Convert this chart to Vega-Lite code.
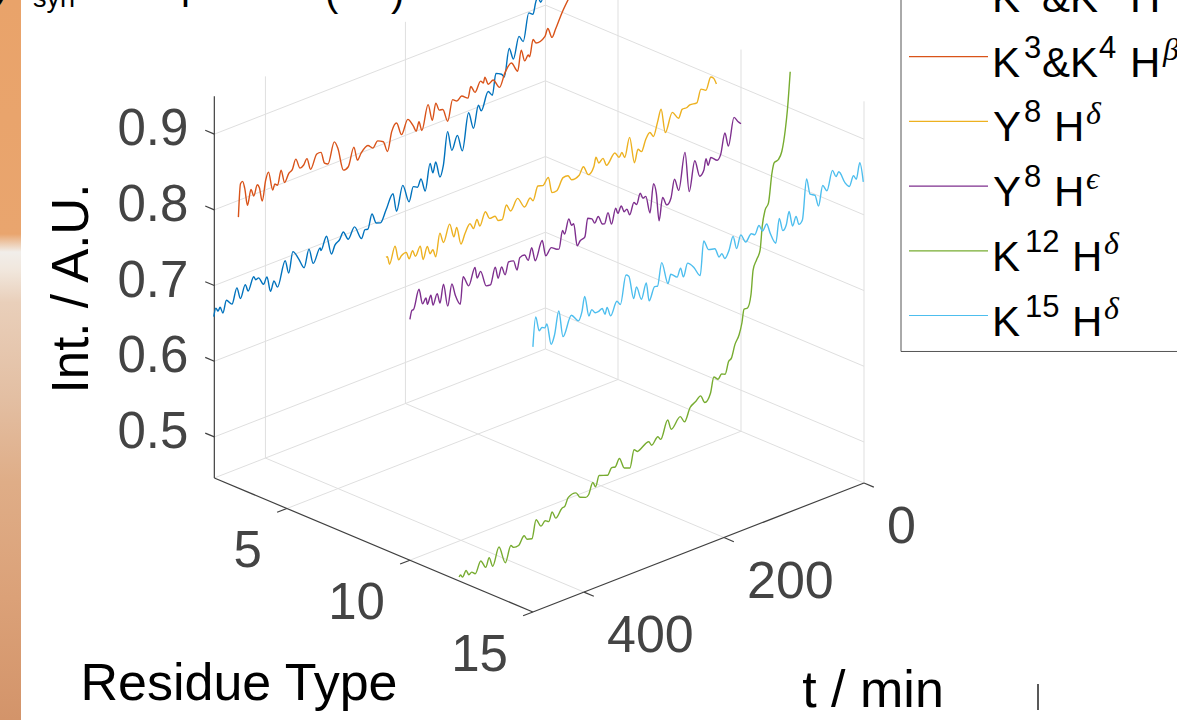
{"$schema":"https://vega.github.io/schema/vega-lite/v6.json","width":1177,"height":720,"padding":0,"autosize":"none","background":"white","config":{"view":{"stroke":null},"text":{"font":"Liberation Sans","baseline":"alphabetic"}},
"datasets":{
"lines":[
{"residue":2,"t":472,"int":0.658},{"residue":2,"t":469,"int":0.668},{"residue":2,"t":466,"int":0.663},{"residue":2,"t":463,"int":0.667},{"residue":2,"t":459,"int":0.658},{"residue":2,"t":454,"int":0.673},{"residue":2,"t":446,"int":0.665},{"residue":2,"t":439,"int":0.684},{"residue":2,"t":434,"int":0.668},{"residue":2,"t":427,"int":0.684},{"residue":2,"t":423,"int":0.674},{"residue":2,"t":415,"int":0.69},{"residue":2,"t":412,"int":0.685},{"residue":2,"t":408,"int":0.686},{"residue":2,"t":401,"int":0.675},{"residue":2,"t":396,"int":0.683},{"residue":2,"t":391,"int":0.662},{"residue":2,"t":386,"int":0.674},{"residue":2,"t":381,"int":0.664},{"residue":2,"t":370,"int":0.695},{"residue":2,"t":365,"int":0.677},{"residue":2,"t":359,"int":0.703},{"residue":2,"t":351,"int":0.691},{"residue":2,"t":343,"int":0.676},{"residue":2,"t":336,"int":0.698},{"residue":2,"t":330,"int":0.677},{"residue":2,"t":320,"int":0.694},{"residue":2,"t":319,"int":0.69},{"residue":2,"t":311,"int":0.706},{"residue":2,"t":304,"int":0.68},{"residue":2,"t":299,"int":0.69},{"residue":2,"t":292,"int":0.695},{"residue":2,"t":287,"int":0.703},{"residue":2,"t":280,"int":0.691},{"residue":2,"t":271,"int":0.704},{"residue":2,"t":261,"int":0.685},{"residue":2,"t":256,"int":0.695},{"residue":2,"t":252,"int":0.694},{"residue":2,"t":246,"int":0.712},{"residue":2,"t":240,"int":0.698},{"residue":2,"t":234,"int":0.696},{"residue":2,"t":226,"int":0.71},{"residue":2,"t":216,"int":0.728},{"residue":2,"t":211,"int":0.703},{"residue":2,"t":202,"int":0.734},{"residue":2,"t":193,"int":0.709},{"residue":2,"t":187,"int":0.727},{"residue":2,"t":181,"int":0.724},{"residue":2,"t":176,"int":0.733},{"residue":2,"t":170,"int":0.715},{"residue":2,"t":163,"int":0.749},{"residue":2,"t":159,"int":0.735},{"residue":2,"t":155,"int":0.748},{"residue":2,"t":149,"int":0.726},{"residue":2,"t":144,"int":0.74},{"residue":2,"t":138,"int":0.782},{"residue":2,"t":132,"int":0.755},{"residue":2,"t":124,"int":0.772},{"residue":2,"t":117,"int":0.749},{"residue":2,"t":108,"int":0.796},{"residue":2,"t":101,"int":0.773},{"residue":2,"t":94,"int":0.801},{"residue":2,"t":90,"int":0.792},{"residue":2,"t":80,"int":0.814},{"residue":2,"t":74,"int":0.807},{"residue":2,"t":69,"int":0.834},{"residue":2,"t":61,"int":0.83},{"residue":2,"t":57,"int":0.825},{"residue":2,"t":50,"int":0.86},{"residue":2,"t":44,"int":0.844},{"residue":2,"t":36,"int":0.871},{"residue":2,"t":30,"int":0.862},{"residue":2,"t":22,"int":0.897},{"residue":2,"t":16,"int":0.893},{"residue":2,"t":12,"int":0.908},{"residue":2,"t":9,"int":0.913},{"residue":2,"t":5,"int":0.905},{"residue":2,"t":0,"int":0.917},
{"residue":3,"t":472,"int":0.803},{"residue":3,"t":469,"int":0.846},{"residue":3,"t":466,"int":0.848},{"residue":3,"t":463,"int":0.838},{"residue":3,"t":459,"int":0.814},{"residue":3,"t":454,"int":0.833},{"residue":3,"t":450,"int":0.823},{"residue":3,"t":445,"int":0.836},{"residue":3,"t":442,"int":0.831},{"residue":3,"t":438,"int":0.812},{"residue":3,"t":433,"int":0.838},{"residue":3,"t":429,"int":0.847},{"residue":3,"t":423,"int":0.821},{"residue":3,"t":420,"int":0.828},{"residue":3,"t":416,"int":0.825},{"residue":3,"t":411,"int":0.843},{"residue":3,"t":406,"int":0.825},{"residue":3,"t":400,"int":0.835},{"residue":3,"t":395,"int":0.838},{"residue":3,"t":390,"int":0.85},{"residue":3,"t":384,"int":0.836},{"residue":3,"t":379,"int":0.838},{"residue":3,"t":374,"int":0.845},{"residue":3,"t":369,"int":0.829},{"residue":3,"t":360,"int":0.846},{"residue":3,"t":354,"int":0.846},{"residue":3,"t":349,"int":0.83},{"residue":3,"t":344,"int":0.827},{"residue":3,"t":335,"int":0.853},{"residue":3,"t":330,"int":0.843},{"residue":3,"t":322,"int":0.811},{"residue":3,"t":315,"int":0.813},{"residue":3,"t":307,"int":0.836},{"residue":3,"t":302,"int":0.817},{"residue":3,"t":297,"int":0.824},{"residue":3,"t":287,"int":0.831},{"residue":3,"t":280,"int":0.825},{"residue":3,"t":273,"int":0.832},{"residue":3,"t":265,"int":0.828},{"residue":3,"t":259,"int":0.813},{"residue":3,"t":253,"int":0.837},{"residue":3,"t":246,"int":0.846},{"residue":3,"t":239,"int":0.828},{"residue":3,"t":230,"int":0.845},{"residue":3,"t":222,"int":0.833},{"residue":3,"t":218,"int":0.825},{"residue":3,"t":214,"int":0.836},{"residue":3,"t":210,"int":0.823},{"residue":3,"t":201,"int":0.854},{"residue":3,"t":195,"int":0.831},{"residue":3,"t":190,"int":0.852},{"residue":3,"t":185,"int":0.841},{"residue":3,"t":180,"int":0.84},{"residue":3,"t":173,"int":0.822},{"residue":3,"t":166,"int":0.848},{"residue":3,"t":160,"int":0.844},{"residue":3,"t":153,"int":0.848},{"residue":3,"t":144,"int":0.842},{"residue":3,"t":140,"int":0.856},{"residue":3,"t":134,"int":0.846},{"residue":3,"t":126,"int":0.858},{"residue":3,"t":122,"int":0.854},{"residue":3,"t":120,"int":0.861},{"residue":3,"t":115,"int":0.85},{"residue":3,"t":108,"int":0.853},{"residue":3,"t":99,"int":0.84},{"residue":3,"t":91,"int":0.857},{"residue":3,"t":82,"int":0.866},{"residue":3,"t":73,"int":0.852},{"residue":3,"t":68,"int":0.878},{"residue":3,"t":63,"int":0.862},{"residue":3,"t":58,"int":0.868},{"residue":3,"t":56,"int":0.865},{"residue":3,"t":51,"int":0.886},{"residue":3,"t":47,"int":0.88},{"residue":3,"t":34,"int":0.884},{"residue":3,"t":30,"int":0.893},{"residue":3,"t":24,"int":0.879},{"residue":3,"t":19,"int":0.888},{"residue":3,"t":10,"int":0.906},{"residue":3,"t":0,"int":0.922},
{"residue":9,"t":472,"int":0.832},{"residue":9,"t":470,"int":0.832},{"residue":9,"t":467,"int":0.821},{"residue":9,"t":459,"int":0.842},{"residue":9,"t":454,"int":0.822},{"residue":9,"t":450,"int":0.826},{"residue":9,"t":443,"int":0.828},{"residue":9,"t":439,"int":0.818},{"residue":9,"t":434,"int":0.827},{"residue":9,"t":430,"int":0.818},{"residue":9,"t":423,"int":0.829},{"residue":9,"t":419,"int":0.81},{"residue":9,"t":413,"int":0.825},{"residue":9,"t":409,"int":0.814},{"residue":9,"t":405,"int":0.818},{"residue":9,"t":401,"int":0.807},{"residue":9,"t":395,"int":0.836},{"residue":9,"t":390,"int":0.822},{"residue":9,"t":381,"int":0.843},{"residue":9,"t":375,"int":0.824},{"residue":9,"t":371,"int":0.835},{"residue":9,"t":365,"int":0.811},{"residue":9,"t":359,"int":0.823},{"residue":9,"t":352,"int":0.833},{"residue":9,"t":347,"int":0.825},{"residue":9,"t":342,"int":0.835},{"residue":9,"t":338,"int":0.825},{"residue":9,"t":330,"int":0.841},{"residue":9,"t":324,"int":0.83},{"residue":9,"t":316,"int":0.83},{"residue":9,"t":312,"int":0.823},{"residue":9,"t":306,"int":0.822},{"residue":9,"t":300,"int":0.839},{"residue":9,"t":294,"int":0.829},{"residue":9,"t":284,"int":0.842},{"residue":9,"t":274,"int":0.827},{"residue":9,"t":266,"int":0.836},{"residue":9,"t":262,"int":0.831},{"residue":9,"t":255,"int":0.848},{"residue":9,"t":248,"int":0.846},{"residue":9,"t":240,"int":0.854},{"residue":9,"t":235,"int":0.832},{"residue":9,"t":228,"int":0.832},{"residue":9,"t":219,"int":0.846},{"residue":9,"t":212,"int":0.846},{"residue":9,"t":207,"int":0.839},{"residue":9,"t":196,"int":0.841},{"residue":9,"t":190,"int":0.85},{"residue":9,"t":183,"int":0.837},{"residue":9,"t":175,"int":0.845},{"residue":9,"t":172,"int":0.856},{"residue":9,"t":168,"int":0.847},{"residue":9,"t":162,"int":0.851},{"residue":9,"t":157,"int":0.84},{"residue":9,"t":145,"int":0.852},{"residue":9,"t":139,"int":0.844},{"residue":9,"t":135,"int":0.849},{"residue":9,"t":131,"int":0.841},{"residue":9,"t":124,"int":0.865},{"residue":9,"t":117,"int":0.829},{"residue":9,"t":112,"int":0.845},{"residue":9,"t":107,"int":0.84},{"residue":9,"t":101,"int":0.854},{"residue":9,"t":95,"int":0.861},{"residue":9,"t":90,"int":0.854},{"residue":9,"t":84,"int":0.871},{"residue":9,"t":79,"int":0.886},{"residue":9,"t":73,"int":0.853},{"residue":9,"t":63,"int":0.876},{"residue":9,"t":54,"int":0.865},{"residue":9,"t":49,"int":0.875},{"residue":9,"t":42,"int":0.875},{"residue":9,"t":38,"int":0.877},{"residue":9,"t":28,"int":0.876},{"residue":9,"t":22,"int":0.892},{"residue":9,"t":15,"int":0.888},{"residue":9,"t":8,"int":0.903},{"residue":9,"t":4,"int":0.9},{"residue":9,"t":0,"int":0.891},
{"residue":10,"t":473,"int":0.764},{"residue":10,"t":470,"int":0.775},{"residue":10,"t":468,"int":0.775},{"residue":10,"t":460,"int":0.799},{"residue":10,"t":455,"int":0.778},{"residue":10,"t":450,"int":0.784},{"residue":10,"t":448,"int":0.775},{"residue":10,"t":443,"int":0.785},{"residue":10,"t":440,"int":0.771},{"residue":10,"t":434,"int":0.784},{"residue":10,"t":430,"int":0.77},{"residue":10,"t":425,"int":0.793},{"residue":10,"t":419,"int":0.762},{"residue":10,"t":413,"int":0.789},{"residue":10,"t":408,"int":0.772},{"residue":10,"t":401,"int":0.758},{"residue":10,"t":397,"int":0.793},{"residue":10,"t":389,"int":0.778},{"residue":10,"t":380,"int":0.799},{"residue":10,"t":377,"int":0.784},{"residue":10,"t":372,"int":0.791},{"residue":10,"t":364,"int":0.769},{"residue":10,"t":358,"int":0.768},{"residue":10,"t":351,"int":0.789},{"residue":10,"t":347,"int":0.773},{"residue":10,"t":342,"int":0.786},{"residue":10,"t":337,"int":0.774},{"residue":10,"t":332,"int":0.789},{"residue":10,"t":325,"int":0.788},{"residue":10,"t":320,"int":0.774},{"residue":10,"t":316,"int":0.789},{"residue":10,"t":309,"int":0.79},{"residue":10,"t":304,"int":0.781},{"residue":10,"t":299,"int":0.796},{"residue":10,"t":294,"int":0.777},{"residue":10,"t":284,"int":0.8},{"residue":10,"t":279,"int":0.778},{"residue":10,"t":271,"int":0.786},{"residue":10,"t":263,"int":0.781},{"residue":10,"t":260,"int":0.78},{"residue":10,"t":255,"int":0.803},{"residue":10,"t":252,"int":0.797},{"residue":10,"t":246,"int":0.815},{"residue":10,"t":242,"int":0.805},{"residue":10,"t":239,"int":0.806},{"residue":10,"t":234,"int":0.775},{"residue":10,"t":230,"int":0.78},{"residue":10,"t":223,"int":0.783},{"residue":10,"t":219,"int":0.806},{"residue":10,"t":213,"int":0.803},{"residue":10,"t":209,"int":0.796},{"residue":10,"t":204,"int":0.803},{"residue":10,"t":198,"int":0.791},{"residue":10,"t":195,"int":0.79},{"residue":10,"t":190,"int":0.803},{"residue":10,"t":185,"int":0.786},{"residue":10,"t":179,"int":0.805},{"residue":10,"t":176,"int":0.797},{"residue":10,"t":171,"int":0.805},{"residue":10,"t":167,"int":0.796},{"residue":10,"t":163,"int":0.798},{"residue":10,"t":159,"int":0.789},{"residue":10,"t":153,"int":0.803},{"residue":10,"t":149,"int":0.799},{"residue":10,"t":144,"int":0.812},{"residue":10,"t":140,"int":0.804},{"residue":10,"t":136,"int":0.805},{"residue":10,"t":130,"int":0.781},{"residue":10,"t":125,"int":0.818},{"residue":10,"t":121,"int":0.804},{"residue":10,"t":117,"int":0.766},{"residue":10,"t":112,"int":0.795},{"residue":10,"t":106,"int":0.783},{"residue":10,"t":100,"int":0.79},{"residue":10,"t":95,"int":0.813},{"residue":10,"t":89,"int":0.796},{"residue":10,"t":80,"int":0.843},{"residue":10,"t":74,"int":0.789},{"residue":10,"t":66,"int":0.827},{"residue":10,"t":59,"int":0.804},{"residue":10,"t":53,"int":0.81},{"residue":10,"t":50,"int":0.824},{"residue":10,"t":47,"int":0.814},{"residue":10,"t":43,"int":0.823},{"residue":10,"t":34,"int":0.816},{"residue":10,"t":29,"int":0.822},{"residue":10,"t":23,"int":0.848},{"residue":10,"t":18,"int":0.829},{"residue":10,"t":10,"int":0.864},{"residue":10,"t":4,"int":0.856},{"residue":10,"t":0,"int":0.852},
{"residue":12,"t":473,"int":0.451},{"residue":12,"t":471,"int":0.453},{"residue":12,"t":468,"int":0.449},{"residue":12,"t":463,"int":0.456},{"residue":12,"t":459,"int":0.449},{"residue":12,"t":455,"int":0.451},{"residue":12,"t":450,"int":0.447},{"residue":12,"t":442,"int":0.461},{"residue":12,"t":435,"int":0.45},{"residue":12,"t":430,"int":0.461},{"residue":12,"t":425,"int":0.448},{"residue":12,"t":416,"int":0.47},{"residue":12,"t":407,"int":0.446},{"residue":12,"t":399,"int":0.466},{"residue":12,"t":395,"int":0.462},{"residue":12,"t":388,"int":0.462},{"residue":12,"t":380,"int":0.472},{"residue":12,"t":376,"int":0.466},{"residue":12,"t":369,"int":0.464},{"residue":12,"t":363,"int":0.487},{"residue":12,"t":356,"int":0.476},{"residue":12,"t":350,"int":0.481},{"residue":12,"t":345,"int":0.478},{"residue":12,"t":340,"int":0.489},{"residue":12,"t":335,"int":0.479},{"residue":12,"t":326,"int":0.489},{"residue":12,"t":322,"int":0.49},{"residue":12,"t":317,"int":0.5},{"residue":12,"t":306,"int":0.502},{"residue":12,"t":300,"int":0.494},{"residue":12,"t":292,"int":0.491},{"residue":12,"t":288,"int":0.493},{"residue":12,"t":282,"int":0.507},{"residue":12,"t":278,"int":0.5},{"residue":12,"t":273,"int":0.513},{"residue":12,"t":261,"int":0.509},{"residue":12,"t":255,"int":0.517},{"residue":12,"t":250,"int":0.516},{"residue":12,"t":244,"int":0.525},{"residue":12,"t":237,"int":0.51},{"residue":12,"t":229,"int":0.507},{"residue":12,"t":223,"int":0.529},{"residue":12,"t":218,"int":0.525},{"residue":12,"t":215,"int":0.526},{"residue":12,"t":202,"int":0.532},{"residue":12,"t":198,"int":0.526},{"residue":12,"t":189,"int":0.534},{"residue":12,"t":185,"int":0.529},{"residue":12,"t":175,"int":0.551},{"residue":12,"t":170,"int":0.537},{"residue":12,"t":157,"int":0.549},{"residue":12,"t":151,"int":0.54},{"residue":12,"t":143,"int":0.556},{"residue":12,"t":135,"int":0.561},{"residue":12,"t":128,"int":0.566},{"residue":12,"t":122,"int":0.555},{"residue":12,"t":114,"int":0.564},{"residue":12,"t":109,"int":0.584},{"residue":12,"t":103,"int":0.579},{"residue":12,"t":98,"int":0.584},{"residue":12,"t":93,"int":0.582},{"residue":12,"t":88,"int":0.597},{"residue":12,"t":84,"int":0.6},{"residue":12,"t":79,"int":0.616},{"residue":12,"t":73,"int":0.627},{"residue":12,"t":69,"int":0.641},{"residue":12,"t":66,"int":0.658},{"residue":12,"t":61,"int":0.658},{"residue":12,"t":56,"int":0.674},{"residue":12,"t":53,"int":0.705},{"residue":12,"t":48,"int":0.717},{"residue":12,"t":43,"int":0.728},{"residue":12,"t":40,"int":0.758},{"residue":12,"t":36,"int":0.778},{"residue":12,"t":31,"int":0.786},{"residue":12,"t":26,"int":0.824},{"residue":12,"t":23,"int":0.836},{"residue":12,"t":17,"int":0.838},{"residue":12,"t":12,"int":0.847},{"residue":12,"t":7,"int":0.874},{"residue":12,"t":4,"int":0.899},{"residue":12,"t":0,"int":0.948},
{"residue":15,"t":473,"int":0.796},{"residue":15,"t":469,"int":0.834},{"residue":15,"t":464,"int":0.814},{"residue":15,"t":460,"int":0.817},{"residue":15,"t":456,"int":0.815},{"residue":15,"t":453,"int":0.819},{"residue":15,"t":447,"int":0.79},{"residue":15,"t":442,"int":0.801},{"residue":15,"t":436,"int":0.83},{"residue":15,"t":430,"int":0.794},{"residue":15,"t":418,"int":0.818},{"residue":15,"t":408,"int":0.807},{"residue":15,"t":403,"int":0.817},{"residue":15,"t":399,"int":0.836},{"residue":15,"t":393,"int":0.808},{"residue":15,"t":389,"int":0.815},{"residue":15,"t":384,"int":0.809},{"residue":15,"t":379,"int":0.809},{"residue":15,"t":374,"int":0.811},{"residue":15,"t":370,"int":0.802},{"residue":15,"t":367,"int":0.81},{"residue":15,"t":362,"int":0.797},{"residue":15,"t":353,"int":0.813},{"residue":15,"t":348,"int":0.807},{"residue":15,"t":340,"int":0.843},{"residue":15,"t":336,"int":0.84},{"residue":15,"t":329,"int":0.808},{"residue":15,"t":325,"int":0.822},{"residue":15,"t":318,"int":0.803},{"residue":15,"t":311,"int":0.822},{"residue":15,"t":307,"int":0.797},{"residue":15,"t":299,"int":0.813},{"residue":15,"t":295,"int":0.812},{"residue":15,"t":289,"int":0.841},{"residue":15,"t":280,"int":0.81},{"residue":15,"t":276,"int":0.821},{"residue":15,"t":267,"int":0.814},{"residue":15,"t":262,"int":0.824},{"residue":15,"t":258,"int":0.811},{"residue":15,"t":252,"int":0.827},{"residue":15,"t":243,"int":0.818},{"residue":15,"t":234,"int":0.804},{"residue":15,"t":229,"int":0.848},{"residue":15,"t":222,"int":0.834},{"residue":15,"t":213,"int":0.832},{"residue":15,"t":207,"int":0.819},{"residue":15,"t":203,"int":0.822},{"residue":15,"t":199,"int":0.814},{"residue":15,"t":193,"int":0.822},{"residue":15,"t":187,"int":0.839},{"residue":15,"t":182,"int":0.821},{"residue":15,"t":176,"int":0.837},{"residue":15,"t":169,"int":0.825},{"residue":15,"t":161,"int":0.833},{"residue":15,"t":156,"int":0.83},{"residue":15,"t":150,"int":0.84},{"residue":15,"t":145,"int":0.831},{"residue":15,"t":139,"int":0.838},{"residue":15,"t":134,"int":0.824},{"residue":15,"t":126,"int":0.808},{"residue":15,"t":121,"int":0.839},{"residue":15,"t":116,"int":0.821},{"residue":15,"t":111,"int":0.827},{"residue":15,"t":107,"int":0.843},{"residue":15,"t":102,"int":0.822},{"residue":15,"t":97,"int":0.833},{"residue":15,"t":93,"int":0.821},{"residue":15,"t":88,"int":0.825},{"residue":15,"t":82,"int":0.877},{"residue":15,"t":77,"int":0.855},{"residue":15,"t":70,"int":0.851},{"residue":15,"t":65,"int":0.835},{"residue":15,"t":59,"int":0.86},{"residue":15,"t":53,"int":0.851},{"residue":15,"t":45,"int":0.875},{"residue":15,"t":40,"int":0.865},{"residue":15,"t":36,"int":0.87},{"residue":15,"t":27,"int":0.852},{"residue":15,"t":21,"int":0.845},{"residue":15,"t":15,"int":0.857},{"residue":15,"t":11,"int":0.851},{"residue":15,"t":6,"int":0.871},{"residue":15,"t":1,"int":0.844}
],
"grid":[
{"seg":"a5","residue":2.05,"t":0,"int":0.5},{"seg":"a5","residue":2.05,"t":473,"int":0.5},{"seg":"a6","residue":2.05,"t":0,"int":0.6},{"seg":"a6","residue":2.05,"t":473,"int":0.6},{"seg":"a7","residue":2.05,"t":0,"int":0.7},{"seg":"a7","residue":2.05,"t":473,"int":0.7},{"seg":"a8","residue":2.05,"t":0,"int":0.8},{"seg":"a8","residue":2.05,"t":473,"int":0.8},{"seg":"a9","residue":2.05,"t":0,"int":0.9},{"seg":"a9","residue":2.05,"t":473,"int":0.9},
{"seg":"b5","residue":2.05,"t":0,"int":0.5},{"seg":"b5","residue":15,"t":0,"int":0.5},{"seg":"b6","residue":2.05,"t":0,"int":0.6},{"seg":"b6","residue":15,"t":0,"int":0.6},{"seg":"b7","residue":2.05,"t":0,"int":0.7},{"seg":"b7","residue":15,"t":0,"int":0.7},{"seg":"b8","residue":2.05,"t":0,"int":0.8},{"seg":"b8","residue":15,"t":0,"int":0.8},{"seg":"b9","residue":2.05,"t":0,"int":0.9},{"seg":"b9","residue":15,"t":0,"int":0.9},
{"seg":"v1","residue":2.05,"t":400,"int":0.4458},{"seg":"v1","residue":2.05,"t":400,"int":0.95},{"seg":"v2","residue":2.05,"t":200,"int":0.4458},{"seg":"v2","residue":2.05,"t":200,"int":0.95},{"seg":"v3","residue":2.05,"t":0,"int":0.4458},{"seg":"v3","residue":2.05,"t":0,"int":0.95},{"seg":"v4","residue":5,"t":0,"int":0.4458},{"seg":"v4","residue":5,"t":0,"int":0.95},{"seg":"v5","residue":10,"t":0,"int":0.4458},{"seg":"v5","residue":10,"t":0,"int":0.95},{"seg":"v6","residue":15,"t":0,"int":0.4458},{"seg":"v6","residue":15,"t":0,"int":0.95},
{"seg":"f1","residue":2.05,"t":200,"int":0.4458},{"seg":"f1","residue":15,"t":200,"int":0.4458},{"seg":"f2","residue":2.05,"t":400,"int":0.4458},{"seg":"f2","residue":15,"t":400,"int":0.4458},{"seg":"f3","residue":5,"t":0,"int":0.4458},{"seg":"f3","residue":5,"t":473,"int":0.4458},{"seg":"f4","residue":10,"t":0,"int":0.4458},{"seg":"f4","residue":10,"t":473,"int":0.4458},{"seg":"f5","residue":2.05,"t":0,"int":0.4458},{"seg":"f5","residue":15,"t":0,"int":0.4458},{"seg":"f6","residue":2.05,"t":0,"int":0.4458},{"seg":"f6","residue":2.05,"t":473,"int":0.4458}
],
"frame":[
{"seg":"z","residue":2.05,"t":473,"int":0.4458},{"seg":"z","residue":2.05,"t":473,"int":0.95},{"seg":"r","residue":2.05,"t":473,"int":0.4458},{"seg":"r","residue":15,"t":473,"int":0.4458},{"seg":"tt","residue":15,"t":473,"int":0.4458},{"seg":"tt","residue":15,"t":0,"int":0.4458},
{"seg":"z5","residue":2.05,"t":473,"int":0.5},{"seg":"z5","residue":1.68,"t":473,"int":0.5},{"seg":"z6","residue":2.05,"t":473,"int":0.6},{"seg":"z6","residue":1.68,"t":473,"int":0.6},{"seg":"z7","residue":2.05,"t":473,"int":0.7},{"seg":"z7","residue":1.68,"t":473,"int":0.7},{"seg":"z8","residue":2.05,"t":473,"int":0.8},{"seg":"z8","residue":1.68,"t":473,"int":0.8},{"seg":"z9","residue":2.05,"t":473,"int":0.9},{"seg":"z9","residue":1.68,"t":473,"int":0.9},
{"seg":"r5","residue":5,"t":473,"int":0.4458},{"seg":"r5","residue":5,"t":487,"int":0.4458},{"seg":"r10","residue":10,"t":473,"int":0.4458},{"seg":"r10","residue":10,"t":487,"int":0.4458},{"seg":"r15","residue":15,"t":473,"int":0.4458},{"seg":"r15","residue":15,"t":487,"int":0.4458},
{"seg":"t0","residue":15,"t":0,"int":0.4458},{"seg":"t0","residue":15.4,"t":0,"int":0.4458},{"seg":"t2","residue":15,"t":200,"int":0.4458},{"seg":"t2","residue":15.4,"t":200,"int":0.4458},{"seg":"t4","residue":15,"t":400,"int":0.4458},{"seg":"t4","residue":15.4,"t":400,"int":0.4458}
]
},
"encoding":{
"x":{"field":"px","type":"quantitative","axis":null,"scale":{"domain":[0,1177],"nice":false,"zero":false}},
"y":{"field":"py","type":"quantitative","axis":null,"scale":{"domain":[0,720],"reverse":true,"nice":false,"zero":false}}
},
"layer":[
{"data":{"values":[{"left":0,"right":21,"top":0,"bottom":720}]},"mark":{"type":"rect","color":{"gradient":"linear","x1":0,"y1":0,"x2":0,"y2":1,"stops":[{"offset":0,"color":"#E9A36A"},{"offset":0.325,"color":"#E9A56E"},{"offset":0.35,"color":"#F1EEEA"},{"offset":0.375,"color":"#F1E7DD"},{"offset":0.42,"color":"#E9CFBA"},{"offset":0.55,"color":"#E3BFA3"},{"offset":0.67,"color":"#DFAD87"},{"offset":0.83,"color":"#DBA178"},{"offset":1,"color":"#D3946A"}]}},"encoding":{"x":{"field":"left","type":"quantitative"},"x2":{"field":"right"},"y":{"field":"top","type":"quantitative"},"y2":{"field":"bottom"}}},
{"data":{"name":"grid"},"transform":[{"calculate":"864-0.7*datum.t+24.6*(datum.residue-15)","as":"px"},{"calculate":"483+0.2727*datum.t+10.35*(datum.residue-15)-757*(datum.int-0.4458)","as":"py"}],"mark":{"type":"line","color":"#DFDFDF","strokeWidth":1,"clip":true},"encoding":{"detail":{"field":"seg"}}},
{"data":{"name":"frame"},"transform":[{"calculate":"864-0.7*datum.t+24.6*(datum.residue-15)","as":"px"},{"calculate":"483+0.2727*datum.t+10.35*(datum.residue-15)-757*(datum.int-0.4458)","as":"py"}],"mark":{"type":"line","color":"#404040","strokeWidth":1.2,"clip":true},"encoding":{"detail":{"field":"seg"}}},
{"data":{"name":"lines"},"transform":[{"calculate":"864-0.7*datum.t+24.6*(datum.residue-15)","as":"px"},{"calculate":"483+0.2727*datum.t+10.35*(datum.residue-15)-757*(datum.int-0.4458)","as":"py"}],"mark":{"type":"line","strokeWidth":1.4,"interpolate":"monotone","clip":true},"encoding":{"color":{"field":"residue","type":"nominal","legend":null,"scale":{"domain":[2,3,9,10,12,15],"range":["#0072BD","#D95319","#EDB120","#7E2F8E","#77AC30","#4DBEEE"]}}}},
{"data":{"values":[{"residue":2.05,"t":473,"int":0.5,"label":"0.5"},{"residue":2.05,"t":473,"int":0.6,"label":"0.6"},{"residue":2.05,"t":473,"int":0.7,"label":"0.7"},{"residue":2.05,"t":473,"int":0.8,"label":"0.8"},{"residue":2.05,"t":473,"int":0.9,"label":"0.9"}]},"transform":[{"calculate":"864-0.7*datum.t+24.6*(datum.residue-15)","as":"px"},{"calculate":"483+0.2727*datum.t+10.35*(datum.residue-15)-757*(datum.int-0.4458)","as":"py"}],"mark":{"type":"text","fontSize":51,"color":"#444444","align":"right","baseline":"middle","dx":-26,"dy":-4},"encoding":{"text":{"field":"label"}}},
{"data":{"values":[{"residue":5,"t":473,"int":0.4458,"label":"5"},{"residue":10,"t":473,"int":0.4458,"label":"10"},{"residue":15,"t":473,"int":0.4458,"label":"15"}]},"transform":[{"calculate":"864-0.7*datum.t+24.6*(datum.residue-15)","as":"px"},{"calculate":"483+0.2727*datum.t+10.35*(datum.residue-15)-757*(datum.int-0.4458)","as":"py"}],"mark":{"type":"text","fontSize":51,"color":"#444444","align":"right","baseline":"middle","dx":-25,"dy":44},"encoding":{"text":{"field":"label"}}},
{"data":{"values":[{"residue":15,"t":0,"int":0.4458,"label":"0"},{"residue":15,"t":200,"int":0.4458,"label":"200"},{"residue":15,"t":400,"int":0.4458,"label":"400"}]},"transform":[{"calculate":"864-0.7*datum.t+24.6*(datum.residue-15)","as":"px"},{"calculate":"483+0.2727*datum.t+10.35*(datum.residue-15)-757*(datum.int-0.4458)","as":"py"}],"mark":{"type":"text","fontSize":52,"color":"#444444","align":"left","baseline":"middle","dx":23,"dy":44},"encoding":{"text":{"field":"label"}}},
{"data":{"values":[{"residue":8.5,"t":473,"int":0.4458,"label":"Residue Type"}]},"transform":[{"calculate":"864-0.7*datum.t+24.6*(datum.residue-15)","as":"px"},{"calculate":"483+0.2727*datum.t+10.35*(datum.residue-15)-757*(datum.int-0.4458)","as":"py"}],"mark":{"type":"text","fontSize":52,"color":"#000000","align":"center","dx":-134,"dy":155},"encoding":{"text":{"field":"label"}}},
{"data":{"values":[{"residue":15,"t":250,"int":0.4458,"label":"t / min"}]},"transform":[{"calculate":"864-0.7*datum.t+24.6*(datum.residue-15)","as":"px"},{"calculate":"483+0.2727*datum.t+10.35*(datum.residue-15)-757*(datum.int-0.4458)","as":"py"}],"mark":{"type":"text","fontSize":52,"color":"#000000","align":"center","dx":184,"dy":156},"encoding":{"text":{"field":"label"}}},
{"data":{"values":[{"residue":2.05,"t":473,"int":0.7,"label":"Int. / A.U."}]},"transform":[{"calculate":"864-0.7*datum.t+24.6*(datum.residue-15)","as":"px"},{"calculate":"483+0.2727*datum.t+10.35*(datum.residue-15)-757*(datum.int-0.4458)","as":"py"}],"mark":{"type":"text","fontSize":51,"color":"#000000","align":"center","angle":270,"dx":-3,"dy":-126},"encoding":{"text":{"field":"label"}}},
{"data":{"values":[{"col":-91,"slot":-0.9},{"col":-91,"slot":4.556},{"col":190,"slot":4.556}]},"transform":[{"calculate":"992+datum.col","as":"px"},{"calculate":"56.7+64.7*datum.slot","as":"py"}],"mark":{"type":"line","color":"#555555","strokeWidth":1,"clip":true},"encoding":{}},
{"data":{"values":[{"slot":0,"col":-83,"residue":3},{"slot":0,"col":-4,"residue":3},{"slot":1,"col":-83,"residue":9},{"slot":1,"col":-4,"residue":9},{"slot":2,"col":-83,"residue":10},{"slot":2,"col":-4,"residue":10},{"slot":3,"col":-83,"residue":12},{"slot":3,"col":-4,"residue":12},{"slot":4,"col":-83,"residue":15},{"slot":4,"col":-4,"residue":15}]},"transform":[{"calculate":"992+datum.col","as":"px"},{"calculate":"56.7+64.7*datum.slot","as":"py"}],"mark":{"type":"line","strokeWidth":1.2},"encoding":{"color":{"field":"residue","type":"nominal","legend":null,"scale":{"domain":[2,3,9,10,12,15],"range":["#0072BD","#D95319","#EDB120","#7E2F8E","#77AC30","#4DBEEE"]}}}},
{"data":{"values":[{"slot":-1,"col":0,"label":"K"},{"slot":-1,"col":50,"label":"&K"},{"slot":-1,"col":138,"label":"H"},{"slot":0,"col":0,"label":"K"},{"slot":0,"col":50,"label":"&K"},{"slot":0,"col":138,"label":"H"},{"slot":1,"col":1,"label":"Y"},{"slot":1,"col":62,"label":"H"},{"slot":2,"col":1,"label":"Y"},{"slot":2,"col":62,"label":"H"},{"slot":3,"col":0,"label":"K"},{"slot":3,"col":80,"label":"H"},{"slot":4,"col":0,"label":"K"},{"slot":4,"col":80,"label":"H"}]},"transform":[{"calculate":"992+datum.col","as":"px"},{"calculate":"56.7+64.7*datum.slot","as":"py"}],"mark":{"type":"text","fontSize":42,"color":"#000000","align":"left","dy":20,"clip":true},"encoding":{"text":{"field":"label"}}},
{"data":{"values":[{"slot":-1,"col":32,"label":"3"},{"slot":-1,"col":107,"label":"4"},{"slot":0,"col":32,"label":"3"},{"slot":0,"col":107,"label":"4"},{"slot":1,"col":32,"label":"8"},{"slot":2,"col":32,"label":"8"},{"slot":3,"col":33,"label":"12"},{"slot":4,"col":33,"label":"15"}]},"transform":[{"calculate":"992+datum.col","as":"px"},{"calculate":"56.7+64.7*datum.slot","as":"py"}],"mark":{"type":"text","fontSize":31,"color":"#000000","align":"left","dy":1,"clip":true},"encoding":{"text":{"field":"label"}}},
{"data":{"values":[{"slot":0,"col":171,"label":"β"},{"slot":1,"col":94,"label":"δ"},{"slot":2,"col":94,"label":"ϵ"},{"slot":3,"col":112,"label":"δ"},{"slot":4,"col":112,"label":"δ"}]},"transform":[{"calculate":"992+datum.col","as":"px"},{"calculate":"56.7+64.7*datum.slot","as":"py"}],"mark":{"type":"text","font":"Liberation Serif","fontStyle":"italic","fontSize":32,"color":"#000000","align":"left","dy":3,"clip":true},"encoding":{"text":{"field":"label"}}},
{"data":{"values":[{"left":33,"base":7,"label":"syn"}]},"mark":{"type":"text","fontSize":27,"color":"#000000","align":"left","clip":true},"encoding":{"x":{"field":"left","type":"quantitative"},"y":{"field":"base","type":"quantitative"},"text":{"field":"label"}}},
{"data":{"values":[{"left":181,"base":-1,"label":"p"},{"left":325,"base":6,"label":"("},{"left":391,"base":6,"label":")"}]},"mark":{"type":"text","fontSize":40,"color":"#000000","align":"left","clip":true},"encoding":{"x":{"field":"left","type":"quantitative"},"y":{"field":"base","type":"quantitative"},"text":{"field":"label"}}},
{"data":{"values":[{"left":-7,"base":2,"label":"y"}]},"mark":{"type":"text","fontSize":30,"fontWeight":"bold","fontStyle":"italic","color":"#000000","align":"left","clip":true},"encoding":{"x":{"field":"left","type":"quantitative"},"y":{"field":"base","type":"quantitative"},"text":{"field":"label"}}},
{"data":{"values":[{"left":1038,"base":684},{"left":1038,"base":710}]},"mark":{"type":"line","color":"#222222","strokeWidth":1.5},"encoding":{"x":{"field":"left","type":"quantitative"},"y":{"field":"base","type":"quantitative"}}}
]}
